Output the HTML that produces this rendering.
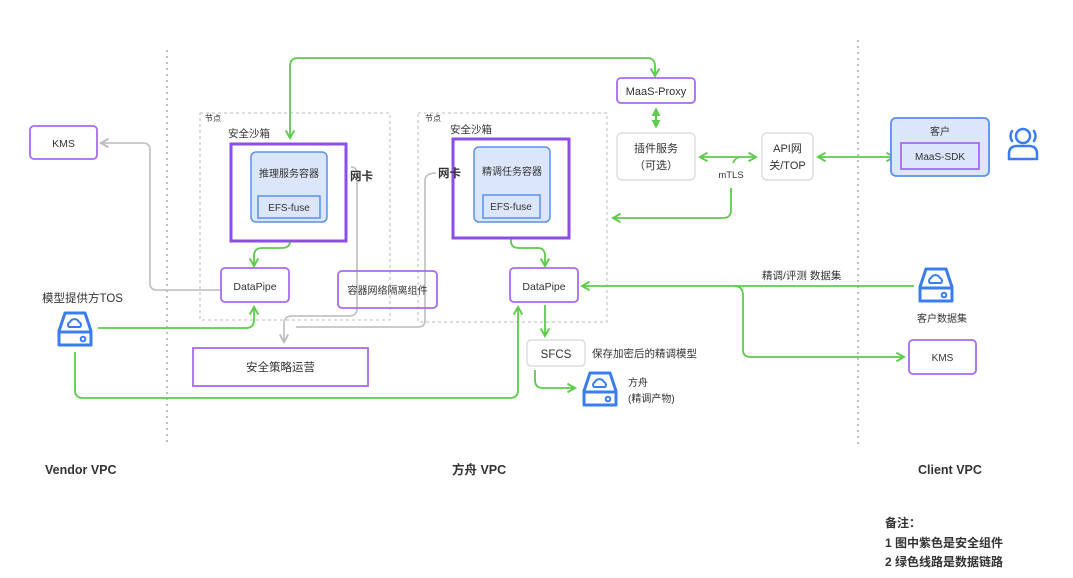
<!DOCTYPE html>
<html><head><meta charset="utf-8"><style>
html,body{margin:0;padding:0;background:#fff;}
svg{display:block;}
text{font-family:"Liberation Sans","Noto Sans CJK SC",sans-serif;fill:#333;}
</style></head><body>
<svg width="1073" height="578" viewBox="0 0 1073 578" xmlns="http://www.w3.org/2000/svg">
<defs>
<marker id="go" viewBox="0 0 10 10" refX="8" refY="5" markerWidth="6" markerHeight="6" orient="auto-start-reverse"><path d="M1,1 L8,5 L1,9" fill="none" stroke="#5ccc4a" stroke-width="1.8"/></marker>
<marker id="gf" viewBox="0 0 10 10" refX="8" refY="5" markerWidth="4" markerHeight="4" orient="auto-start-reverse"><path d="M0,0 L10,5 L0,10 z" fill="#5ccc4a"/></marker>
<marker id="gr" viewBox="0 0 10 10" refX="8" refY="5" markerWidth="6" markerHeight="6" orient="auto"><path d="M1,1 L8,5 L1,9" fill="none" stroke="#bbb" stroke-width="1.8"/></marker>
<g id="disk"><path d="M6,0 H26 L32,18 V32 H0 V18 Z" fill="none" stroke="#3b7cf0" stroke-width="3" stroke-linejoin="round"/><line x1="0" y1="19" x2="32" y2="19" stroke="#3b7cf0" stroke-width="3"/><circle cx="24" cy="26" r="2.3" fill="none" stroke="#3b7cf0" stroke-width="2"/><path d="M10,14 a3,3 0 0 1 1,-5 a5,5 0 0 1 9,0 a3,3 0 0 1 1,5 z" fill="none" stroke="#3b7cf0" stroke-width="2"/></g>
</defs>
<rect width="1073" height="578" fill="#fff"/>
<line x1="167" y1="50" x2="167" y2="445" stroke="#aaa" stroke-width="1.5" stroke-dasharray="2,4"/>
<line x1="858" y1="40" x2="858" y2="445" stroke="#aaa" stroke-width="1.5" stroke-dasharray="2,4"/>

<rect x="200" y="113" width="190" height="207" fill="none" stroke="#bbb" stroke-dasharray="3,3"/>
<rect x="418" y="113" width="189" height="209" fill="none" stroke="#bbb" stroke-dasharray="3,3"/>
<text x="205" y="121" font-size="8">节点</text>
<text x="425" y="121" font-size="8">节点</text>
<text x="228" y="137" font-size="10.5">安全沙箱</text>
<text x="450" y="133" font-size="10.5">安全沙箱</text>

<path d="M221,290 H157 Q150,290 150,283 V150 Q150,143 143,143 H101" fill="none" stroke="#c4c4c4" stroke-width="1.8" marker-end="url(#gr)"/>
<path d="M351,167 Q357,167 357,174 V308 Q357,316 349,316 H292 Q284,316 284,324 V342" fill="none" stroke="#c4c4c4" stroke-width="1.8" marker-end="url(#gr)"/>
<path d="M436,173 Q425,173 425,181 V320 Q425,327 418,327 H296" fill="none" stroke="#c4c4c4" stroke-width="1.8"/>

<g fill="none" stroke="#5ccc4a" stroke-width="1.8">
<path d="M290,138 V66 Q290,58 298,58 H647 Q655,58 655,66 V76" marker-start="url(#go)" marker-end="url(#go)"/>
<path d="M656,109 V127" stroke-width="2.2" marker-start="url(#gf)" marker-end="url(#gf)"/>
<path d="M700,157 H756" marker-start="url(#go)" marker-end="url(#go)"/>
<path d="M733,163 Q736,157 740,157" />
<path d="M818,157 H894" marker-start="url(#go)" marker-end="url(#go)"/>
<path d="M731,188 V210 Q731,218 723,218 H613" marker-end="url(#go)"/>
<path d="M290,225 V241 Q290,248 282,248 H262 Q254,248 254,256 V266" marker-start="url(#go)" marker-end="url(#go)"/>
<path d="M511,225 V241 Q511,248 519,248 H538 Q545,248 545,256 V266" marker-start="url(#go)" marker-end="url(#go)"/>
<path d="M98,328 H246 Q254,328 254,320 V307" marker-end="url(#go)"/>
<path d="M75,352 V390 Q75,398 83,398 H510 Q518,398 518,390 V307" marker-end="url(#go)"/>
<path d="M914,286 H582" marker-end="url(#go)"/>
<path d="M734,286 Q743,286 743,295 V350 Q743,357 751,357 H904" marker-end="url(#go)"/>
<path d="M545,305 V336" marker-end="url(#go)"/>
<path d="M535,370 V380 Q535,388 543,388 H575" marker-end="url(#go)"/>
</g>

<rect x="30" y="126" width="67" height="33" rx="4" fill="#fff" stroke="#a86af0" stroke-width="1.8"/>
<text x="63.5" y="147" font-size="10.5" text-anchor="middle">KMS</text>

<rect x="231" y="144" width="115" height="97" fill="#fff" stroke="#8b4ee6" stroke-width="3"/>
<rect x="251" y="152" width="76" height="70" rx="5" fill="#dce6fb" stroke="#5a8ff0" stroke-width="1.5"/>
<text x="289" y="177" font-size="10" text-anchor="middle">推理服务容器</text>
<rect x="258" y="196" width="62" height="22" fill="#dce6fb" stroke="#5a8ff0" stroke-width="1.5"/>
<text x="289" y="211" font-size="10" text-anchor="middle">EFS-fuse</text>
<text x="350" y="180" font-size="11.5" font-weight="bold" fill="#222">网卡</text>

<rect x="453" y="139" width="116" height="99" fill="#fff" stroke="#8b4ee6" stroke-width="3"/>
<rect x="474" y="147" width="76" height="75" rx="5" fill="#dce6fb" stroke="#5a8ff0" stroke-width="1.5"/>
<text x="512" y="175" font-size="10" text-anchor="middle">精调任务容器</text>
<rect x="483" y="195" width="57" height="23" fill="#dce6fb" stroke="#5a8ff0" stroke-width="1.5"/>
<text x="511" y="210" font-size="10" text-anchor="middle">EFS-fuse</text>
<text x="438" y="177" font-size="11.5" font-weight="bold" fill="#222">网卡</text>

<rect x="221" y="268" width="68" height="34" rx="4" fill="#fff" stroke="#a86af0" stroke-width="1.8"/>
<text x="255" y="290" font-size="10.5" text-anchor="middle">DataPipe</text>
<rect x="510" y="268" width="68" height="34" rx="4" fill="#fff" stroke="#a86af0" stroke-width="1.8"/>
<text x="544" y="290" font-size="10.5" text-anchor="middle">DataPipe</text>
<rect x="338" y="271" width="99" height="37" rx="4" fill="none" stroke="#a86af0" stroke-width="1.8"/>
<text x="387.5" y="294" font-size="10" text-anchor="middle">容器网络隔离组件</text>
<rect x="193" y="348" width="175" height="38" fill="#fff" stroke="#a86af0" stroke-width="1.8"/>
<text x="280.5" y="371" font-size="11.5" text-anchor="middle">安全策略运营</text>

<rect x="527" y="340" width="58" height="26" rx="4" fill="#fff" stroke="#ddd" stroke-width="1.5"/>
<text x="556" y="358" font-size="11.5" text-anchor="middle">SFCS</text>
<text x="592" y="357" font-size="10.5">保存加密后的精调模型</text>
<use href="#disk" x="584" y="373"/>
<text x="628" y="386" font-size="10">方舟</text>
<text x="628" y="402" font-size="10">(精调产物)</text>

<text x="42" y="302" font-size="11.5">模型提供方TOS</text>
<use href="#disk" x="59" y="313"/>

<rect x="617" y="78" width="78" height="25" rx="4" fill="#fff" stroke="#a86af0" stroke-width="1.8"/>
<text x="656" y="95" font-size="11" text-anchor="middle">MaaS-Proxy</text>
<rect x="617" y="133" width="78" height="47" rx="5" fill="#fff" stroke="#ddd" stroke-width="1.5"/>
<text x="656" y="152" font-size="11" text-anchor="middle">插件服务</text>
<text x="656" y="169" font-size="11" text-anchor="middle">（可选）</text>
<rect x="762" y="133" width="51" height="47" rx="5" fill="#fff" stroke="#ddd" stroke-width="1.5"/>
<text x="787.5" y="152" font-size="11" text-anchor="middle">API网</text>
<text x="787.5" y="169" font-size="11" text-anchor="middle">关/TOP</text>
<text x="731" y="178" font-size="9.5" text-anchor="middle">mTLS</text>

<rect x="891" y="118" width="98" height="58" rx="5" fill="#dce6fb" stroke="#5a8ff0" stroke-width="1.8"/>
<text x="940" y="135" font-size="10" text-anchor="middle">客户</text>
<rect x="901" y="143" width="78" height="26" fill="#dce6fb" stroke="#a86af0" stroke-width="1.8"/>
<text x="940" y="160" font-size="10" text-anchor="middle">MaaS-SDK</text>
<g fill="none" stroke="#3b7cf0" stroke-width="2.5" stroke-linecap="round">
<circle cx="1023" cy="136" r="7"/>
<path d="M1009,159 V154 Q1009,146 1017,146 H1029 Q1037,146 1037,154 V159 Z"/>
<path d="M1012,131 Q1009,136 1012,141"/><path d="M1034,131 Q1037,136 1034,141"/>
</g>

<text x="762" y="279" font-size="10.5">精调/评测 数据集</text>
<use href="#disk" x="920" y="269"/>
<text x="942" y="322" font-size="10" text-anchor="middle">客户数据集</text>
<rect x="909" y="340" width="67" height="34" rx="4" fill="#fff" stroke="#a86af0" stroke-width="1.8"/>
<text x="942.5" y="361" font-size="10" text-anchor="middle">KMS</text>

<text x="45" y="474" font-size="12.5" font-weight="bold" fill="#222">Vendor  VPC</text>
<text x="452" y="474" font-size="12.5" font-weight="bold" fill="#222">方舟 VPC</text>
<text x="918" y="474" font-size="12.5" font-weight="bold" fill="#222">Client  VPC</text>

<text x="885" y="527" font-size="12" font-weight="bold" fill="#222">备注：</text>
<text x="885" y="547" font-size="12" font-weight="bold" fill="#222">1 图中紫色是安全组件</text>
<text x="885" y="566" font-size="12" font-weight="bold" fill="#222">2 绿色线路是数据链路</text>
</svg>
</body></html>
